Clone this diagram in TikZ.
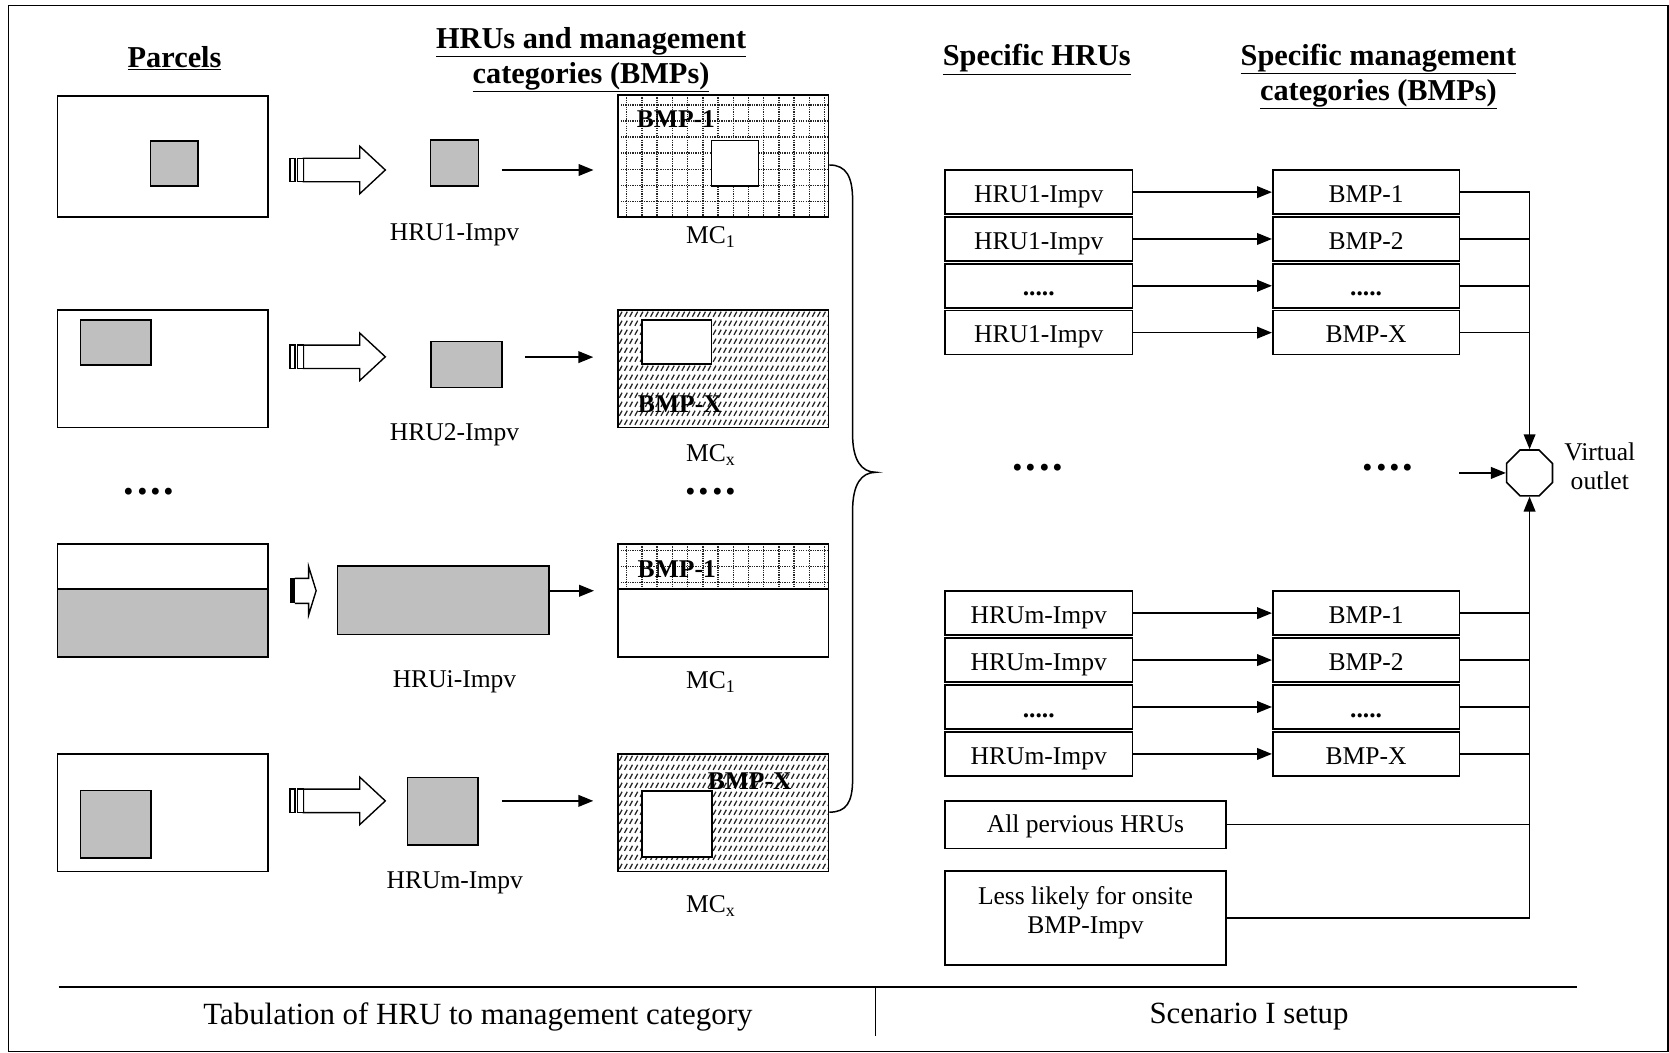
\documentclass[tikz,border=0pt]{standalone}
\usepackage{fontspec}
\setmainfont{Liberation Serif}
\usetikzlibrary{arrows.meta,shapes.geometric}
\tikzset{
  lbl/.style={font=\fontsize{24}{28}\selectfont, inner sep=0pt},
  ttl/.style={font=\bfseries\fontsize{28.5}{33}\selectfont, inner sep=0pt, align=center},
  capt/.style={font=\fontsize{29}{34}\selectfont, inner sep=0pt},
  bmplbl/.style={font=\bfseries\fontsize{24}{28}\selectfont, inner sep=0pt},
  bigdots/.style={font=\bfseries\fontsize{40}{44}\selectfont, inner sep=0pt},
  frame/.style={draw, line width=1.5pt, inner sep=0pt},
  grayrect/.style={draw, fill=black!25, line width=1.5pt, inner sep=0pt},
  sbox/.style={draw, line width=1.5pt, font=\fontsize{24}{28}\selectfont, text height=20pt, text depth=1pt, inner sep=0pt},
  arr/.style={-{Triangle[length=14pt,width=11pt]}, line width=1.4pt},
  link/.style={line width=1.4pt},
  gridline/.style={line width=1.3pt, black!85, dash pattern=on 1.2pt off 1pt},
  hatchline/.style={line width=1.2pt, black!85},
  blk/.style={line width=1.3pt, fill=white}
}
\newcommand\blockarrow[1]{%
  \draw[blk] (285,#1-11) -- (338,#1-11) -- (338,#1-22.3) -- (362,#1) -- (338,#1+22.3) -- (338,#1+11) -- (285,#1+11) -- cycle;
  \draw[blk] (272.5,#1-11) rectangle (277,#1+11);
  \draw[blk] (279.5,#1-11) rectangle (285,#1+11);
}
\newcommand\hatchfill[4]{% x1 y1 x2 y2
  \begin{scope}
    \clip (#1,#2) rectangle (#3,#4);
    \foreach \yy in {0,...,13} {
      \foreach \xx in {0,...,40} {
        \draw[hatchline] ({#1+1+4.9*\xx},{#2+4+8.46*\yy+2.4}) -- ({#1+1+4.9*\xx+2.6},{#2+4+8.46*\yy-2.4});
      }
    }
  \end{scope}
}
\begin{document}
\begin{tikzpicture}[x=1pt,y=-1pt]
\useasboundingbox (0,0) rectangle (1568,989);
\draw[line width=1.5pt] (8,5) rectangle (1567,988);

% ---------- titles ----------
\node[ttl] (tParcels) at (164,55) {\underline{Parcels}};
\node[ttl] (tHRU) at (555.3,56) {\underline{HRUs and management}\\\underline{categories (BMPs)}};
\node[ttl] (tSpec) at (974,56) {\underline{Specific HRUs}};
\node[ttl] (tSpecM) at (1295,72) {\underline{Specific management}\\\underline{categories (BMPs)}};

% ---------- parcels ----------
\node[frame, minimum width=198pt, minimum height=114pt] (P1) at (153,147) {};
\node[grayrect, minimum width=44.7pt, minimum height=42.5pt] (G1) at (163.65,153.45) {};
\node[frame, minimum width=198pt, minimum height=110.5pt] (P2) at (153,346.25) {};
\node[grayrect, minimum width=66.3pt, minimum height=42.3pt] (G2) at (108.65,321.75) {};
\node[frame, minimum width=198pt, minimum height=106pt] (P3) at (153,564) {};
\draw[fill=black!25, line width=1.5pt] (54,553.3) rectangle (252,617);
\node[frame, minimum width=198pt, minimum height=110.3pt] (P4) at (153,763.5) {};
\node[grayrect, minimum width=66.3pt, minimum height=63.5pt] (G4) at (108.65,774.25) {};

% ---------- block arrows ----------
\blockarrow{159.7}
\blockarrow{335.2}
\blockarrow{752.4}
\fill (272.5,543.3) rectangle (277.5,566.8);
\draw[line width=1.3pt] (277,543.3) -- (290,543.3) -- (290,532.4) -- (297,555) -- (290,577.6) -- (290,566.8) -- (277,566.8);

% ---------- HRUs ----------
\node[grayrect, minimum width=45.1pt, minimum height=43.2pt] (H1) at (427.15,153.1) {};
\node[grayrect, minimum width=66.4pt, minimum height=43.2pt] (H2) at (438.2,342.6) {};
\node[grayrect, minimum width=198.5pt, minimum height=64.4pt] (H3) at (416.25,564) {};
\node[grayrect, minimum width=66.3pt, minimum height=63.3pt] (H4) at (416.15,762.25) {};
\node[lbl] (lH1) at (427,220.8) {HRU1-Impv};
\node[lbl] (lH2) at (427,408.7) {HRU2-Impv};
\node[lbl] (lH3) at (427,640.5) {HRUi-Impv};
\node[lbl] (lH4) at (427.2,829.3) {HRUm-Impv};

% ---------- MC boxes ----------
\begin{scope}
  \clip (580.8,89.3) rectangle (778.5,203.6);
  \foreach \k in {0,...,13} \draw[gridline] ({588.8+14.3*\k},89.3) -- ({588.8+14.3*\k},203.6);
  \foreach \k in {0,...,6} \draw[gridline] (580.8,{98.6+15.1*\k}) -- (778.5,{98.6+15.1*\k});
\end{scope}
\node[frame, minimum width=197.7pt, minimum height=114.3pt] (MC1) at (679.65,146.45) {};
\draw[fill=white, line width=1.5pt] (668.6,132) rectangle (712.5,174.5);
\node[bmplbl] (bl1) at (635,112) {BMP-1};

\hatchfill{580.8}{291.2}{778.5}{401.8}
\node[frame, minimum width=197.7pt, minimum height=110.6pt] (MC2) at (679.65,346.5) {};
\draw[fill=white, line width=1.5pt] (603,300.6) rectangle (668.6,342);
\node[bmplbl] (bl2) at (638.7,380) {BMP-X};

\begin{scope}
  \clip (580.8,511) rectangle (778.5,553.3);
  \foreach \k in {0,...,13} \draw[gridline] ({588.8+14.3*\k},511) -- ({588.8+14.3*\k},553.3);
  \foreach \k in {0,...,2} \draw[gridline] (580.8,{517+15*\k}) -- (778.5,{517+15*\k});
\end{scope}
\node[frame, minimum width=197.7pt, minimum height=106pt] (MC3) at (679.65,564) {};
\draw[line width=1.5pt] (580.8,553.3) -- (778.5,553.3);
\node[bmplbl] (bl3) at (635.8,534.4) {BMP-1};

\hatchfill{580.8}{708.4}{778.5}{818.7}
\node[frame, minimum width=197.7pt, minimum height=110.3pt] (MC4) at (679.65,763.55) {};
\draw[fill=white, line width=1.5pt] (603,743.2) rectangle (668.7,805.4);
\node[bmplbl] (bl4) at (704.3,733.7) {BMP-X};

\node[lbl] (lM1) at (667.7,222.3) {MC\textsubscript{1}};
\node[lbl] (lM2) at (667.7,427.5) {MC\textsubscript{x}};
\node[lbl] (lM3) at (667.7,640.5) {MC\textsubscript{1}};
\node[lbl] (lM4) at (667.7,850.8) {MC\textsubscript{x}};

% ---------- left arrows ----------
\coordinate (r1) at (0,159.7);
\coordinate (r2) at (0,335.5);
\coordinate (r3) at (0,555);
\coordinate (r4) at (0,752.4);
\draw[arr, shorten <=20.7pt, shorten >=22.5pt] (H1.east |- r1) -- (MC1.west |- r1);
\draw[arr, shorten <=21pt, shorten >=22.7pt] (H2.east |- r2) -- (MC2.west |- r2);
\draw[arr, shorten >=22pt] (H3.east |- r3) -- (MC3.west |- r3);
\draw[arr, shorten <=21.5pt, shorten >=22.7pt] (H4.east |- r4) -- (MC4.west |- r4);

\node[bigdots] (d1) at (140,462) {.\kern2.5pt.\kern2.5pt.\kern2.5pt.};
\node[bigdots] (d2) at (667.7,462) {.\kern2.5pt.\kern2.5pt.\kern2.5pt.};

% brace
\draw[line width=1.4pt] (MC1.east |- 0,155) .. controls (795,155) and (801,166) .. (801,188)
  -- (801,408) .. controls (801,432) and (809,443.7) .. (823,443.7)
  .. controls (809,443.7) and (801,455) .. (801,480)
  -- (801,732) .. controls (801,754) and (795,763) .. (MC4.east |- 0,763);

% ---------- bottom ----------
\coordinate (bl) at (55,927);
\coordinate (br) at (1481.4,927);
\coordinate (dv1) at (822.5,927);
\coordinate (dv2) at (822.5,973);
\draw[line width=1.5pt] (bl) -- (br);
\draw[line width=1.5pt] (dv1) -- (dv2);
\node[capt] (c1) at (449,955.3) {Tabulation of HRU to management category};
\node[capt] (c2) at (1173.4,955.3) {Scenario I setup};

% ---------- right side ----------
\node[draw, regular polygon, regular polygon sides=8, minimum size=46.6pt, inner sep=0pt, line width=1.5pt] (O) at (1437,444.3) {};
\node[lbl, align=center, font=\fontsize{24}{27.5}\selectfont] (vo) at (1503,438) {Virtual\\outlet};

\foreach \i/\t/\b in {0/HRU1-Impv/BMP-1, 1/HRU1-Impv/BMP-2, 2/\textbf{.....}/\textbf{.....}, 3/HRU1-Impv/BMP-X} {
  \node[sbox, minimum width=176.2pt, minimum height=41.3pt] (uh\i) at (975.9,{180.5+44*\i}) {\t};
  \node[sbox, minimum width=175.5pt, minimum height=41.3pt] (ub\i) at (1283.45,{180.5+44*\i}) {\b};
  \draw[arr] (uh\i.east) -- (ub\i.west);
}
\foreach \i/\t/\b in {0/HRUm-Impv/BMP-1, 1/HRUm-Impv/BMP-2, 2/\textbf{.....}/\textbf{.....}, 3/HRUm-Impv/BMP-X} {
  \node[sbox, minimum width=176.2pt, minimum height=41.5pt] (lh\i) at (975.9,{576+44.1*\i}) {\t};
  \node[sbox, minimum width=175.5pt, minimum height=41.5pt] (lb\i) at (1283.45,{576+44.1*\i}) {\b};
  \draw[arr] (lh\i.east) -- (lb\i.west);
}
\draw[arr] (ub0.east) -| (O.north);
\foreach \i in {1,2,3} \draw[link] (ub\i.east) -- (ub\i.east -| O.north);

\node[frame, minimum width=264pt, minimum height=44.8pt] (allp) at (1019.8,774.8) {};
\node[lbl] (allpt) at (1019.8,776) {All pervious HRUs};
\node[frame, minimum width=264pt, minimum height=88.2pt] (less) at (1019.8,862.4) {};
\node[lbl, align=center, font=\fontsize{24}{27.8}\selectfont] (lesst) at (1019.8,857.5) {Less likely for onsite\\BMP-Impv};

\draw[arr] (less.east) -| (O.south);
\foreach \i in {0,1,2,3} \draw[link] (lb\i.east) -- (lb\i.east -| O.south);
\draw[link] (allp.east) -- (allp.east -| O.south);

\coordinate (vin) at (1371,444.3);
\draw[arr] (vin) -- (O.west);
\node[bigdots] (d3) at (975,439.5) {.\kern2.5pt.\kern2.5pt.\kern2.5pt.};
\node[bigdots] (d4) at (1304,439.5) {.\kern2.5pt.\kern2.5pt.\kern2.5pt.};
\end{tikzpicture}
\end{document}
